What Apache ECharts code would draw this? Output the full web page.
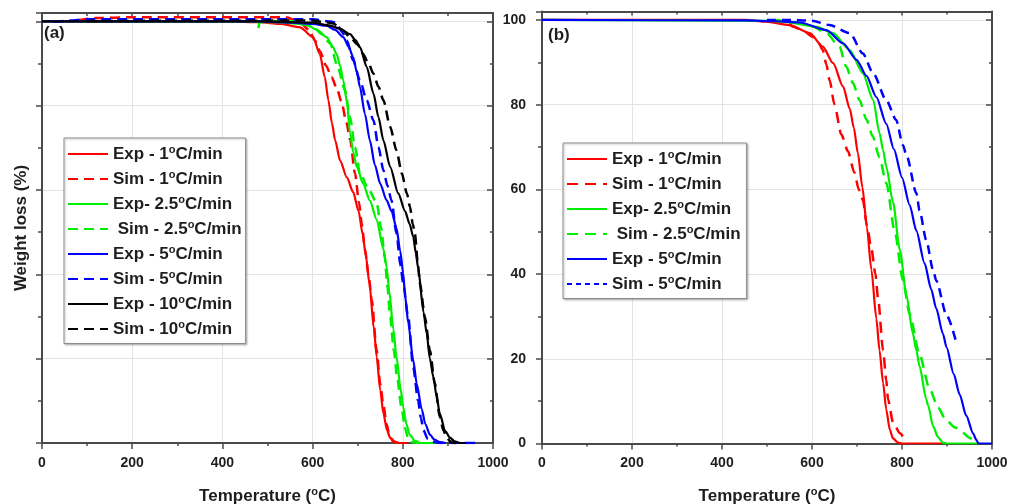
<!DOCTYPE html>
<html>
<head>
<meta charset="utf-8">
<script src="https://cdn.jsdelivr.net/npm/echarts@6/dist/echarts.min.js"></script>
<style>
html,body{margin:0;padding:0;background:#fff;}
#chart{width:1009px;height:504px;}
</style>
</head>
<body>
<div id="chart"></div>
<script>
// ---------- data (Temperature °C, Weight loss %) ----------
const xTicks = [0, 200, 400, 600, 800, 1000];
const yTicks = [0, 20, 40, 60, 80, 100];

const legendA = ['Exp - 1°C/min', 'Sim - 1°C/min', 'Exp- 2.5°C/min', ' Sim - 2.5°C/min', 'Exp - 5°C/min', 'Sim - 5°C/min', 'Exp - 10°C/min', 'Sim - 10°C/min'];
const legendB = ['Exp - 1°C/min', 'Sim - 1°C/min', 'Exp- 2.5°C/min', ' Sim - 2.5°C/min', 'Exp - 5°C/min', 'Sim - 5°C/min'];

// panel (a)
const exp1A = [[0,100],[420,100],[480,99.8],[530,99.4],[572,98.6],[601,96.3],[616,92.3],[627,86.8],[635,81.3],[643,75.8],[650,71.8],[661,67],[676,63],[690,59.5],[702,55],[711,49.5],[718,44.5],[726,37.8],[736,27],[742,20.5],[750,12.5],[757,7],[765,3],[772,1.2],[783,0.3],[790,0],[810,0]];
const sim1A = [[80,100.3],[120,100.8],[200,101],[540,101],[570,100],[592,98],[605,95.5],[616,93],[630,89.5],[642,86.8],[654,84],[664,81],[675,76],[683,72],[694,64],[703,57],[709,52],[716,46],[724,40],[731,34],[742,22],[750,14],[757,9],[764,4.5],[770,2],[779,0.3],[790,0]];
const exp25A = [[0,100],[450,100],[520,99.8],[550,99.6],[587,99.2],[610,98],[631,96.3],[645,94],[653,92.3],[661,89.5],[668,86],[676,81],[683,73.5],[690,69],[698,65.5],[712,61.5],[727,57.5],[742,53],[757,46],[764,41.8],[770,36],[779,27],[786,20.5],[795,13],[801,8.5],[808,4.5],[815,2],[827,0.5],[840,0],[880,0]];
const sim25A = [[480,98.4],[482,99.8],[500,100.1],[560,100],[600,98.8],[620,97],[639,94.8],[656,89],[672,83.6],[683,77.3],[694,70.2],[705,64],[725,60],[742,57],[752,51],[760,44],[766,37],[772,30],[780,22],[788,15],[797,8.5],[805,3.5],[812,1],[822,0.2],[835,0]];
const exp5A = [[0,100],[480,100],[560,99.7],[600,99.4],[631,99],[650,98],[668,96.3],[680,94],[690,91.5],[698,88],[705,84.4],[716,78.1],[727,71.8],[738,66],[750,61.5],[764,57.6],[775,55],[786,51],[794,45.7],[801,40.2],[805,35],[812,28.5],[823,19.7],[831,14],[842,8],[850,4.5],[860,2],[870,0.8],[882,0.2],[895,0]];
const sim5A = [[25,99.9],[60,100.2],[100,100.5],[600,100.5],[640,100],[653,99.6],[665,97.5],[676,95.5],[690,90.8],[705,86],[720,81.3],[735,76.5],[746,70.2],[757,64.7],[766,61],[775,57.5],[786,49.7],[795,42],[801,37.8],[812,29.9],[823,18],[834,10],[840,6],[846,3],[855,1],[865,0.3],[880,0],[965,0]];
const exp10A = [[0,100],[500,100],[600,99.7],[639,99],[660,98.3],[683,97],[695,95.6],[705,93.9],[720,89.2],[735,82.9],[746,77.3],[757,71.8],[772,65.5],[790,59.2],[805,55],[815,52],[823,49],[829,45],[834,41.5],[846,31],[853,26],[860,20],[868,15.5],[875,11],[882,7],[894,2.8],[905,1.2],[915,0.4],[927,0],[940,0]];
const sim10A = [[100,100.1],[600,100.2],[630,99.8],[646,99.5],[665,98],[683,96.3],[700,94.5],[712,92.3],[724,90],[735,87.6],[746,84.5],[757,81.3],[772,75],[786,69.4],[798,63.9],[809,59.2],[816,56],[822,52],[827,49.5],[833,43],[838,37.8],[849,29.9],[860,22],[871,14.1],[882,6.2],[890,3],[897,1.4],[905,0.4],[912,0],[925,0]];

// panel (b)
const exp1B = [[0,100],[450,100],[498,99.6],[550,98.8],[595,96.9],[624,93.7],[647,89.8],[669,84.3],[684,79],[693,74.5],[702,68.5],[712,60.5],[722,51],[732,41],[743,29.5],[750,22],[758,14.3],[765,8],[773,3.2],[780,1.2],[791,0.2],[800,0],[890,0]];
const sim1B = [[550,99.2],[558,98.4],[580,97.5],[602,96],[615,94.5],[624,92.9],[632,89.5],[639,85.8],[650,80],[665,73],[680,69],[694,64],[704,60],[713,57.5],[722,51.5],[732,46],[741,40],[747,34],[758,22],[765,15],[769,10.4],[780,5],[795,2.5],[805,1.4],[812,0.5]];
const exp25B = [[0,100],[500,99.8],[536,99.6],[610,98.4],[647,96.9],[684,92.9],[713,87.4],[736,81.1],[750,73.3],[758,69.3],[765,65.4],[780,57],[795,45.8],[810,35],[824,26],[832,22],[839,18.2],[854,10.4],[858,9],[869,4.1],[880,1.5],[891,0.2],[900,0],[970,0]];
const sim25B = [[520,100],[560,99.5],[600,98.5],[632,96.9],[661,93.7],[676,89],[691,85.1],[706,81],[721,76.5],[735,72.5],[750,67.5],[765,61.5],[784,50],[802,38.5],[817,30.5],[839,21],[861,13],[880,8.5],[898,5.5],[918,3.8],[936,2.5],[950,1.3],[965,0.3]];
const exp5B = [[0,100],[450,99.9],[520,99.7],[573,99.4],[632,97.6],[669,94.5],[699,90.6],[721,86.8],[743,81.8],[765,75.5],[782,69.5],[800,62.8],[817,56.3],[832,50.2],[850,42.6],[865,36.4],[876,31.9],[891,25.9],[899,22.7],[915,16.4],[928,11.6],[943,6.5],[958,2.4],[965,0.9],[970,0],[1000,0]];
const sim5B = [[500,100],[560,100],[600,99.8],[639,98.8],[684,96.9],[713,92.1],[736,87.4],[765,81.1],[787,76.4],[802,70.5],[810,68],[832,59.1],[839,55],[854,48],[869,41],[876,38.5],[899,30.3],[921,23.7]];

// ---------- styles ----------
const RED = '#ff0000', GREEN = '#00ee00', BLUE = '#0000ff', BLACK = '#000000';
const AX = '#4a4a4a';
const FONT = '"Liberation Sans", Arial, sans-serif';
const TXT = '#1e1e1e';

function richLabel(name) {
  const n = name.replace(/^b:/, '');
  const parts = n.split('°');
  return '{t|' + parts[0] + '}{s|o}{t|' + parts[1] + '}';
}
const legendRich = {
  t: {fontSize: 17, fontWeight: 'bold', fontFamily: FONT, color: TXT, lineHeight: 20},
  s: {fontSize: 11, fontWeight: 'bold', fontFamily: FONT, color: TXT, lineHeight: 11, verticalAlign: 'top'}
};
const nameRich = {
  t: {fontSize: 17, fontWeight: 'bold', fontFamily: FONT, color: TXT, lineHeight: 20},
  s: {fontSize: 11, fontWeight: 'bold', fontFamily: FONT, color: TXT, lineHeight: 11, verticalAlign: 'top'}
};

function line(name, data, color, dash, xi, yi, width) {
  return {
    type: 'line', name: name, data: data, xAxisIndex: xi, yAxisIndex: yi,
    symbol: 'none', showSymbol: false, smooth: 0.25, smoothMonotone: 'x', clip: true,
    lineStyle: {color: color, width: width || (dash ? 2.5 : 2.2), type: dash || 'solid'},
    itemStyle: {color: color}
  };
}

const axisLineStyle = {color: AX, width: 2};
function mainX(gi, showLabel) {
  return {
    gridIndex: gi, type: 'value', min: xTicks[0], max: xTicks[xTicks.length - 1], interval: xTicks[1] - xTicks[0],
    position: 'bottom',
    axisLine: {show: true, onZero: false, lineStyle: axisLineStyle},
    axisTick: {show: true, length: 6, lineStyle: {color: AX, width: 1.5}},
    minorTick: {show: true, splitNumber: 2, length: 3, lineStyle: {color: AX, width: 1.5}},
    axisLabel: {show: showLabel, margin: 13, fontSize: 14, fontWeight: 'bold', fontFamily: FONT, color: TXT,
      formatter: v => String(v)},
    splitLine: {show: true, lineStyle: {color: '#e4e4e4', width: 1}},
    name: '{t|Temperature (}{s|o}{t|C)}', nameLocation: 'middle', nameGap: 43,
    nameTextStyle: {rich: nameRich}
  };
}
function topX(gi) {
  return {
    gridIndex: gi, type: 'value', min: xTicks[0], max: xTicks[xTicks.length - 1], interval: xTicks[1] - xTicks[0],
    position: 'top',
    axisLine: {show: true, onZero: false, lineStyle: axisLineStyle},
    axisTick: {show: true, inside: true, length: 4, lineStyle: {color: AX, width: 1.5}},
    minorTick: {show: true, splitNumber: 2, length: 3, lineStyle: {color: AX, width: 1.5}},
    axisLabel: {show: false}, splitLine: {show: false}
  };
}
function mainY(gi, showLabel, name) {
  const o = {
    gridIndex: gi, type: 'value', min: 0, max: 102, interval: yTicks[1] - yTicks[0],
    position: 'left',
    axisLine: {show: true, onZero: false, lineStyle: axisLineStyle},
    axisTick: {show: true, length: 6, lineStyle: {color: AX, width: 1.5}},
    minorTick: {show: true, splitNumber: 2, length: 4, lineStyle: {color: AX, width: 1.5}},
    axisLabel: {show: showLabel, margin: 16, fontSize: 14, fontWeight: 'bold', fontFamily: FONT, color: TXT,
      showMaxLabel: false,
      formatter: v => (yTicks.indexOf(v) >= 0 ? String(v) : '')},
    splitLine: {show: true, lineStyle: {color: '#e4e4e4', width: 1}}
  };
  if (name) {
    o.name = name; o.nameLocation = 'middle'; o.nameGap = 12;
    o.nameTextStyle = {fontSize: 17, fontWeight: 'bold', fontFamily: FONT, color: TXT};
  }
  return o;
}
function rightY(gi) {
  return {
    gridIndex: gi, type: 'value', min: 0, max: 102, interval: yTicks[1] - yTicks[0],
    position: 'right',
    axisLine: {show: true, onZero: false, lineStyle: axisLineStyle},
    axisTick: {show: true, inside: true, length: 6, lineStyle: {color: AX, width: 1.5}},
    minorTick: {show: true, splitNumber: 2, length: 3, lineStyle: {color: AX, width: 1.5}},
    axisLabel: {show: false}, splitLine: {show: false}
  };
}

const DASH = [10, 6];
const DASHB = [11, 7];
const series = [
  line(legendA[0], exp1A, RED, null, 0, 0),
  line(legendA[1], sim1A, RED, DASH, 0, 0),
  line(legendA[2], exp25A, GREEN, null, 0, 0),
  line(legendA[3], sim25A, GREEN, DASH, 0, 0),
  line(legendA[4], exp5A, BLUE, null, 0, 0),
  line(legendA[5], sim5A, BLUE, DASH, 0, 0),
  line(legendA[6], exp10A, BLACK, null, 0, 0),
  line(legendA[7], sim10A, BLACK, DASH, 0, 0),
  line('b:' + legendB[0], exp1B, RED, null, 2, 2),
  line('b:' + legendB[1], sim1B, RED, DASHB, 2, 2),
  line('b:' + legendB[2], exp25B, GREEN, null, 2, 2),
  line('b:' + legendB[3], sim25B, GREEN, DASHB, 2, 2),
  line('b:' + legendB[4], exp5B, BLUE, null, 2, 2),
  line('b:' + legendB[5], sim5B, BLUE, [9, 6], 2, 2)
];

const legendCommon = {
  orient: 'vertical', itemWidth: 40, itemHeight: 14, itemGap: 6.5,
  backgroundColor: '#fff', borderColor: '#8c8c8c', borderWidth: 1,
  shadowColor: 'rgba(0,0,0,0.25)', shadowBlur: 2, shadowOffsetX: 1, shadowOffsetY: 1,
  itemStyle: {opacity: 0},
  formatter: richLabel, textStyle: {rich: legendRich},
  selectedMode: false
};

const option = {
  animation: false,
  backgroundColor: '#ffffff',
  grid: [
    {left: 42, top: 13, width: 451, height: 430, containLabel: false, outerBoundsMode: 'none'},
    {left: 542, top: 11.5, width: 450, height: 432, containLabel: false, outerBoundsMode: 'none'}
  ],
  xAxis: [mainX(0, true), topX(0), mainX(1, true), topX(1)],
  yAxis: [mainY(0, false, 'Weight loss (%)'), rightY(0), mainY(1, true, null), rightY(1)],
  legend: [
    Object.assign({}, legendCommon, {left: 64, top: 138, padding: [6, 4, 6, 3], data: legendA.map(n => ({name: n}))}),
    Object.assign({}, legendCommon, {left: 563, top: 143, padding: [6, 6, 6, 3],
      data: legendB.map((n, i) => (i === 5 ? {name: 'b:' + n, lineStyle: {type: [5, 4]}} : {name: 'b:' + n}))})
  ],
  graphic: [
    {type: 'text', left: 44, top: 25, style: {text: '(a)', font: 'bold 17px ' + FONT, fill: TXT}},
    {type: 'text', left: 548, top: 27, style: {text: '(b)', font: 'bold 17px ' + FONT, fill: TXT}}
  ],
  series: series
};

const chart = echarts.init(document.getElementById('chart'), null, {renderer: 'canvas'});
chart.setOption(option);
</script>
</body>
</html>
